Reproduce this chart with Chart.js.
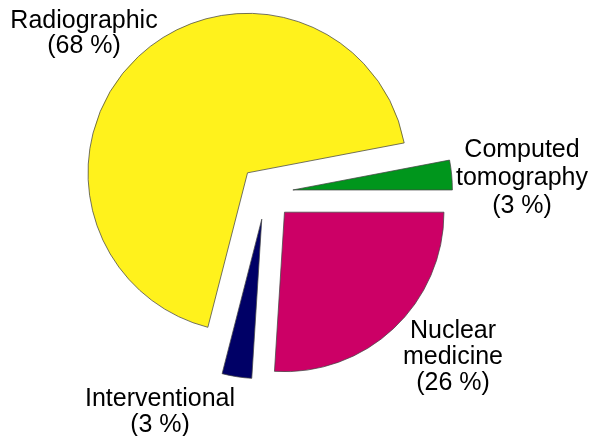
<!DOCTYPE html>
<html>
<head>
<meta charset="utf-8">
<script src="https://cdn.jsdelivr.net/npm/chart.js@4/dist/chart.umd.min.js"></script>
<style>
  html, body { margin: 0; padding: 0; background: #ffffff; }
  #wrap { width: 594px; height: 436px; position: relative; }
</style>
</head>
<body>
<div id="wrap"><canvas id="c" width="594" height="436"></canvas></div>
<script>
// Data (clockwise from 3 o'clock)
const categories = ["Nuclear medicine", "Interventional", "Radiographic", "Computed tomography"];
const shares = [26, 3, 68, 3];
const sliceColors = ["#CC0066", "#000066", "#FFF21C", "#00961C"];
// Label text lines
const labelLines = [
  ["Nuclear", "medicine", "(26 %)"],
  ["Interventional", "(3 %)"],
  ["Radiographic", "(68 %)"],
  ["Computed", "tomography", "(3 %)"]
];
// Label anchor: offset of first baseline from pie centre (px) and line spacing
const labelAnchors = [
  { dx: 187, dy: 145.5, lh: 26 },
  { dx: -106, dy: 213.5, lh: 26 },
  { dx: -182, dy: -164.5, lh: 25 },
  { dx: 256, dy: -35.5, lh: 28 }
];

// Explode distance (px) of each slice from the pie centre
const explodePx = 27;

// Pure translation of each arc along its bisector (Chart.js' own `offset`
// also enlarges the radius of wide slices, so translate instead).
const explodePlugin = {
  id: 'explode',
  afterUpdate(chart) {
    const meta = chart.getDatasetMeta(0);
    meta.data.forEach(el => {
      if (el._explodePatched) return;
      const baseDraw = el.draw;
      el.draw = function (ctx, area) {
        const half = (this.startAngle + this.endAngle) / 2;
        ctx.save();
        ctx.translate(Math.cos(half) * explodePx, Math.sin(half) * explodePx);
        baseDraw.call(this, ctx, area);
        ctx.restore();
      };
      el._explodePatched = true;
    });
  }
};

const labelPlugin = {
  id: 'sliceLabels',
  afterDraw(chart) {
    const cx = (chart.chartArea.left + chart.chartArea.right) / 2;
    const cy = (chart.chartArea.top + chart.chartArea.bottom) / 2;
    const ctx = chart.ctx;
    ctx.save();
    ctx.fillStyle = '#000000';
    ctx.font = '25px "Liberation Sans", Arial, sans-serif';
    ctx.textAlign = 'center';
    ctx.textBaseline = 'alphabetic';
    labelLines.forEach((lines, i) => {
      const a = labelAnchors[i];
      lines.forEach((t, j) => {
        ctx.fillText(t, cx + a.dx, cy + a.dy + j * a.lh);
      });
    });
    ctx.restore();
  }
};

new Chart(document.getElementById('c'), {
  type: 'pie',
  data: {
    labels: categories,
    datasets: [{
      data: shares,
      backgroundColor: sliceColors,
      borderColor: 'rgba(70,70,70,0.75)',
      borderWidth: 1,
      offset: 0,
      hoverOffset: 0
    }]
  },
  options: {
    responsive: false,
    animation: false,
    rotation: 90,
    radius: 159.5,
    layout: { padding: { left: 0, right: 62, top: 0, bottom: 51 } },
    plugins: {
      legend: { display: false },
      tooltip: { enabled: false }
    },
    events: []
  },
  plugins: [explodePlugin, labelPlugin]
});
</script>
</body>
</html>
